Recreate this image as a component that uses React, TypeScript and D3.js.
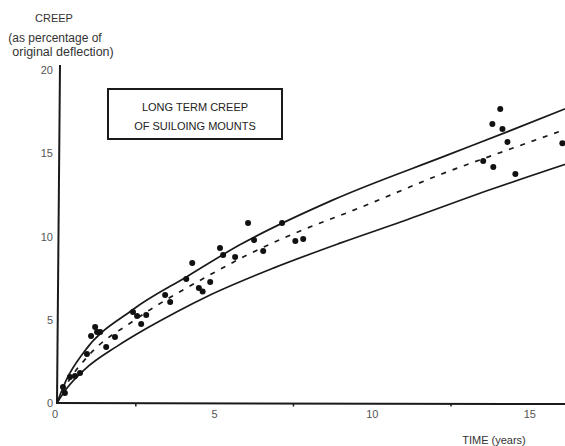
import { useRef, useEffect } from 'react';
import * as d3 from 'd3';

// readings taken off the scanned figure (time in years, creep in %)
const upperCurve: [number, number][] = [
  [0, 0], [0.3, 1.4], [0.85, 3.05], [2.4, 5.6], [4.13, 7.6], [5.8, 9.5],
  [8.76, 12.2], [12.4, 14.9], [14.3, 16.3], [16.3, 17.8],
];
const meanCurve: [number, number][] = [
  [0, 0], [0.3, 1.1], [1.05, 2.95], [2.4, 4.9], [4.76, 7.6], [6.1, 8.95],
  [7.3, 10.0], [9.7, 11.8], [12.2, 13.75], [14.3, 15.2], [16.3, 16.55],
];
const lowerCurve: [number, number][] = [
  [0, 0], [0.3, 0.85], [0.9, 2.05], [1.9, 3.4], [2.86, 4.5], [3.82, 5.5],
  [4.76, 6.4], [6.86, 8.1], [8.98, 9.6], [10.9, 10.87], [13.8, 12.85], [16.3, 14.45],
];
const measured: [number, number][] = [
  [0.19, 0.96], [0.25, 0.6], [0.41, 1.56], [0.57, 1.62], [0.73, 1.8], [0.95, 2.94],
  [1.08, 4.02], [1.21, 4.56], [1.27, 4.26], [1.37, 4.26], [1.56, 3.36], [1.84, 3.96],
  [2.41, 5.47], [2.54, 5.23], [2.67, 4.74], [2.83, 5.29], [3.43, 6.49], [3.59, 6.07],
  [4.1, 7.45], [4.29, 8.41], [4.5, 6.9], [4.62, 6.7], [4.86, 7.27], [5.17, 9.31],
  [5.27, 8.89], [5.65, 8.77], [6.06, 10.81], [6.25, 9.79], [6.54, 9.13], [7.14, 10.81],
  [7.56, 9.73], [7.81, 9.85], [13.52, 14.53], [13.81, 16.76], [13.84, 14.17],
  [14.06, 17.66], [14.13, 16.46], [14.29, 15.68], [14.54, 13.75], [16.03, 15.6],
];
const yTicks = [0, 5, 10, 15, 20];
const xTicks = [0, 5, 10, 15];
const xMinorTicks = [2.5, 7.5, 12.5];
const yTitle = ['CREEP', '(as percentage of', 'original deflection)'];
const boxTitle = ['LONG TERM CREEP', 'OF SUILOING MOUNTS'];
const xTitle = 'TIME  (years)';

const FONT = "'Liberation Sans', Arial, sans-serif";

export default function App() {
  const svgRef = useRef<SVGSVGElement>(null);

  useEffect(() => {
    const svg = d3.select(svgRef.current);
    svg.selectAll('*').remove();

    const x = d3.scaleLinear().domain([0, 16]).range([57, 561.4]);
    const y = d3.scaleLinear().domain([0, 20]).range([403, 70]);
    const ink = '#1a1a1a';

    const g = svg.append('g');

    // axes (the scanned y axis leans a little)
    g.append('line')
      .attr('x1', x(0) + 3).attr('y1', 65)
      .attr('x2', x(0)).attr('y2', y(0))
      .attr('stroke', ink).attr('stroke-width', 2);
    g.append('line')
      .attr('x1', x(0) - 1).attr('y1', y(0))
      .attr('x2', 565).attr('y2', y(0) + 1)
      .attr('stroke', ink).attr('stroke-width', 2);

    g.selectAll('.minor')
      .data(xMinorTicks)
      .enter()
      .append('line')
      .attr('x1', d => x(d)).attr('x2', d => x(d))
      .attr('y1', y(0)).attr('y2', y(0) + 3.5)
      .attr('stroke', ink).attr('stroke-width', 1.5);

    g.selectAll('.ytick')
      .data(yTicks)
      .enter()
      .append('text')
      .attr('x', x(0) - 4)
      .attr('y', d => y(d) + 4)
      .attr('text-anchor', 'end')
      .style('font-family', FONT).style('font-size', '11px')
      .attr('fill', '#555')
      .text(d => String(d));

    g.selectAll('.xtick')
      .data(xTicks)
      .enter()
      .append('text')
      .attr('x', d => x(d) - (d === 0 ? 2 : 0))
      .attr('y', y(0) + 15)
      .attr('text-anchor', 'middle')
      .style('font-family', FONT).style('font-size', '11px')
      .attr('fill', '#555')
      .text(d => String(d));

    // titles
    g.append('text')
      .attr('x', 54).attr('y', 22)
      .attr('text-anchor', 'middle')
      .style('font-family', FONT).style('font-size', '11px')
      .attr('fill', '#333')
      .text(yTitle[0]);
    g.append('text')
      .attr('x', 55).attr('y', 42)
      .attr('text-anchor', 'middle')
      .style('font-family', FONT).style('font-size', '12px')
      .attr('fill', '#333')
      .text(yTitle[1]);
    g.append('text')
      .attr('x', 63).attr('y', 56)
      .attr('text-anchor', 'middle')
      .style('font-family', FONT).style('font-size', '12.5px')
      .attr('fill', '#333')
      .text(yTitle[2]);

    g.append('text')
      .attr('x', 494).attr('y', 444)
      .attr('text-anchor', 'middle')
      .style('font-family', FONT).style('font-size', '11px')
      .attr('fill', '#333')
      .text(xTitle);

    g.append('rect')
      .attr('x', 108).attr('y', 89)
      .attr('width', 174).attr('height', 50)
      .attr('fill', 'none')
      .attr('stroke', ink).attr('stroke-width', 2);

    g.selectAll('.boxtitle')
      .data(boxTitle)
      .enter()
      .append('text')
      .attr('x', 195)
      .attr('y', (d, i) => 111 + i * 19)
      .attr('text-anchor', 'middle')
      .style('font-family', FONT).style('font-size', '11px')
      .attr('fill', '#222')
      .text(d => d);

    // curves
    const line = d3.line<[number, number]>()
      .x(d => x(d[0]))
      .y(d => y(d[1]))
      .curve(d3.curveMonotoneX);

    g.append('path')
      .datum(upperCurve)
      .attr('fill', 'none').attr('stroke', ink).attr('stroke-width', 1.7)
      .attr('d', line);

    g.append('path')
      .datum(lowerCurve)
      .attr('fill', 'none').attr('stroke', ink).attr('stroke-width', 1.7)
      .attr('d', line);

    g.append('path')
      .datum(meanCurve)
      .attr('fill', 'none').attr('stroke', ink).attr('stroke-width', 1.7)
      .attr('stroke-dasharray', '5,7')
      .attr('d', line);

    // measured points
    g.selectAll('.dot')
      .data(measured)
      .enter()
      .append('circle')
      .attr('cx', d => x(d[0]))
      .attr('cy', d => y(d[1]))
      .attr('r', 3)
      .attr('fill', '#111');
  }, []);

  return (
    <svg
      ref={svgRef}
      width={565}
      height={446}
      style={{ position: 'absolute', left: 0, top: 0, background: '#fff' }}
    />
  );
}
